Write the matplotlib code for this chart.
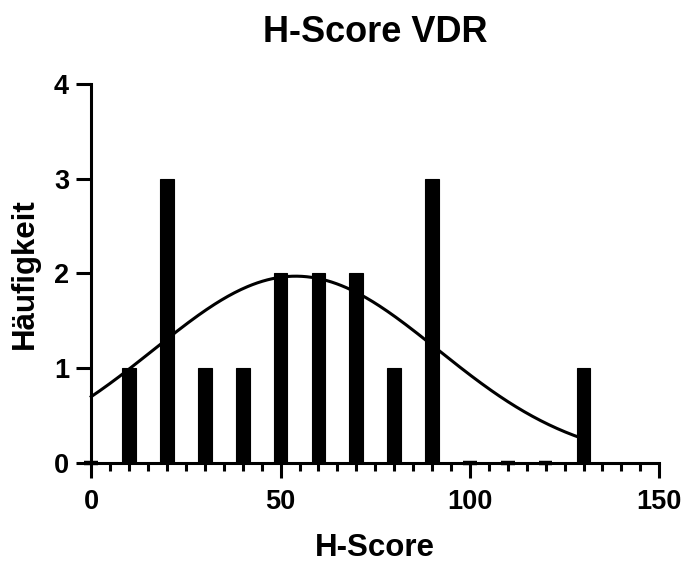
import numpy as np
from matplotlib import pyplot as plt

plt.rcParams['font.family'] = ['Liberation Sans', 'DejaVu Sans']
plt.rcParams['font.weight'] = 'bold'

# Data
bin_centers = [0, 10, 20, 30, 40, 50, 60, 70, 80, 90, 100, 110, 120, 130]
counts = [0, 1, 3, 1, 1, 2, 2, 2, 1, 3, 0, 0, 0, 1]
# gaussian fit (amplitude, mean, sd)
fit_amp = 1.97
fit_mean = 54.0
fit_sd = 37.5

fig = plt.figure(figsize=(6.86, 5.63), dpi=100)
ax = fig.add_axes([0.133, 0.178, 0.828, 0.673])

# empty bins still get a thin outline above the axis, like Prism does
edge_w = [3.2 if c == 0 else 0.8 for c in counts]
ax.bar(bin_centers, counts, width=3.6, color='black', edgecolor='black',
       linewidth=edge_w, clip_on=False, zorder=3)

xs = np.linspace(0, 130, 300)
ys = fit_amp * np.exp(-(xs - fit_mean) ** 2 / (2 * fit_sd ** 2))
ax.plot(xs, ys, color='black', linewidth=2.2, clip_on=False, zorder=4)

ax.set_xlim(0, 150)
ax.set_ylim(0, 4)
ax.set_xticks([0, 50, 100, 150])
ax.set_xticks(np.arange(0, 151, 5), minor=True)
ax.set_yticks([0, 1, 2, 3, 4])

for side in ['top', 'right']:
    ax.spines[side].set_visible(False)
for side in ['left', 'bottom']:
    ax.spines[side].set_linewidth(2.2)

ax.tick_params(axis='both', which='major', length=11, width=2.2,
               labelsize=19.5, pad=5)
ax.tick_params(axis='x', which='major', pad=8)
ax.tick_params(axis='x', which='minor', length=6, width=2.2)
ax.tick_params(axis='y', which='minor', length=0)

ax.set_xlabel('H-Score', fontsize=22.5, fontweight='bold', labelpad=13)
ax.set_ylabel('Häufigkeit', fontsize=22.5, fontweight='bold', labelpad=10)
ax.set_title('H-Score VDR', fontsize=26, fontweight='bold', pad=30)

plt.savefig('out.png', dpi=100)
plt.close()
